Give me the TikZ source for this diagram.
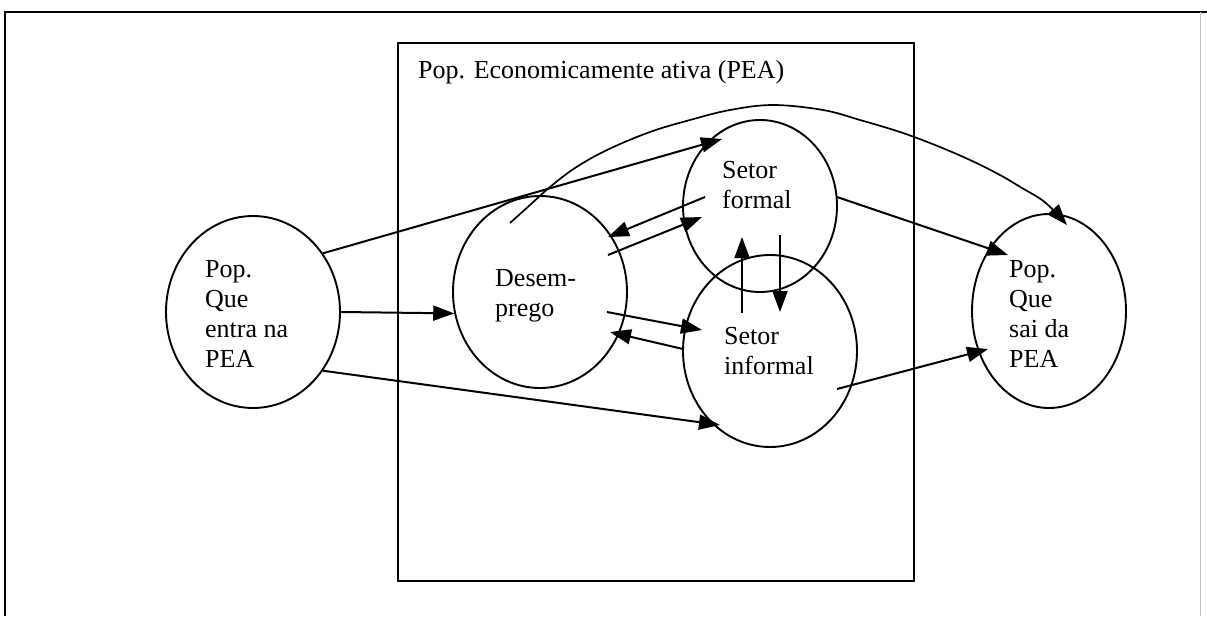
\documentclass[tikz,border=0pt]{standalone}
\usepackage{fontspec}
\setmainfont{Liberation Serif}
\usetikzlibrary{arrows.meta,shapes.geometric}
\begin{document}
\begin{tikzpicture}[x=1pt,y=-1pt,
  blob/.style={draw,ellipse,line width=1.9pt,inner sep=0pt},
  lbl/.style={anchor=base west,inner sep=0pt,align=left,font=\fontsize{26}{30}\selectfont},
  flow/.style={line width=2pt,-{Triangle[length=21pt,width=15pt]}},
]
\useasboundingbox (0,0) rectangle (1207,616);
% outer frame
\draw[line width=2pt] (5,616) -- (5,12) -- (1207,12);
\draw[line width=1pt,black!25] (1200,12) -- (1200,616);
% inner box
\node[draw,line width=2pt,minimum width=516pt,minimum height=538pt,anchor=north west,inner sep=0pt] (pea) at (397,42) {};
\node[lbl] (peat) at (418,78) {Pop. Economicamente ativa (PEA)};
% circles
\node[blob,minimum width=174pt,minimum height=192pt] (L) at (253,312) {};
\node[blob,minimum width=174pt,minimum height=192pt] (D) at (540,292) {};
\node[blob,minimum width=154pt,minimum height=172pt] (F) at (760,206) {};
\node[blob,minimum width=174pt,minimum height=192pt] (I) at (770,351) {};
\node[blob,minimum width=154pt,minimum height=194pt] (R) at (1049,311) {};
% labels (base anchor = last line)
\node[lbl] (Lt) at (205,367) {Pop.\\Que\\entra na\\PEA};
\node[lbl] (Dt) at (495,316) {Desem-\\prego};
\node[lbl] (Ft) at (722,208) {Setor\\formal};
\node[lbl] (It) at (724,374) {Setor\\informal};
\node[lbl] (Rt) at (1009,367) {Pop.\\Que\\sai da\\PEA};
% free ends
\coordinate (a1) at (722,139);
\coordinate (a4s) at (705,197);
\coordinate (a4e) at (608,237);
\coordinate (a5s) at (608,255);
\coordinate (a5e) at (702,217);
\coordinate (a6s) at (607,312);
\coordinate (a6e) at (702,330);
\coordinate (a7s) at (683,349);
\coordinate (a7e) at (610,332);
\coordinate (a8s) at (742,313);
\coordinate (a8e) at (742,237);
\coordinate (a9s) at (780,235);
\coordinate (a9e) at (780,312);
\coordinate (a10s) at (837,197);
\coordinate (a10e) at (1008,255);
\coordinate (a11s) at (837,389);
\coordinate (a11e) at (988,349);
\coordinate (a3e) at (720,425);
\coordinate (cs) at (510,223);
\coordinate (ce) at (1067,225);
% connectors
\draw[flow] (L.40) -- (a1);
\draw[flow] (L.east) -- (D.194);
\draw[flow] (L.-40) -- (a3e);
\draw[flow] (a4s) -- (a4e);
\draw[flow] (a5s) -- (a5e);
\draw[flow] (a6s) -- (a6e);
\draw[flow] (a7s) -- (a7e);
\draw[flow] (a8s) -- (a8e);
\draw[flow] (a9s) -- (a9e);
\draw[flow] (a10s) -- (a10e);
\draw[flow] (a11s) -- (a11e);
\draw[line width=1.7pt,-{Triangle[length=21pt,width=15pt]}] plot[smooth,tension=0.6] coordinates {(cs) (530,205) (550,187) (575,168) (607,150) (650,132) (690,120) (730,110) (773,105) (823,110) (860,120) (900,132) (935,145) (970,160) (1000,175) (1022,188) (1042,200) (1055,212) (ce)};
\end{tikzpicture}
\end{document}
